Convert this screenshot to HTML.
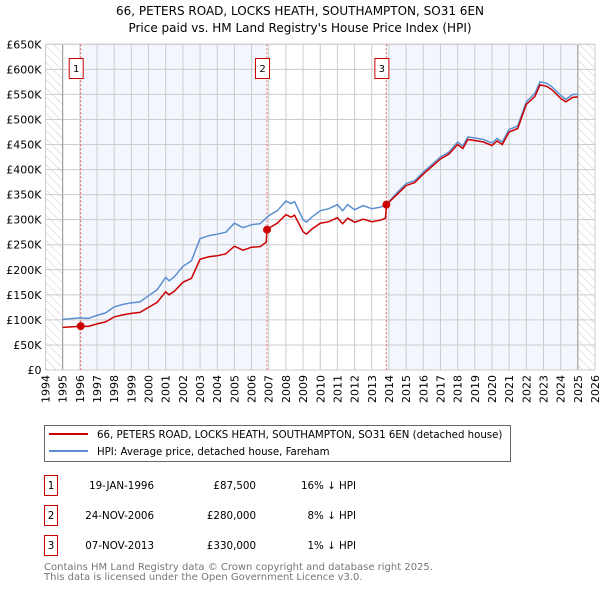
<!DOCTYPE html>
<html><head><meta charset="utf-8"><style>
body{margin:0;background:#fff;font-family:"DejaVu Sans","Liberation Sans",sans-serif;}
svg text{font-family:"DejaVu Sans","Liberation Sans",sans-serif;}
</style></head><body>
<svg id="c" width="600" height="590" xmlns="http://www.w3.org/2000/svg">
<defs><pattern id="hatch" width="6" height="6" patternUnits="userSpaceOnUse" patternTransform="rotate(-45)"><line x1="0" y1="0" x2="0" y2="6" stroke="#ccc" stroke-width="1"/></pattern></defs>
<text x="300" y="15" text-anchor="middle" font-size="12">66, PETERS ROAD, LOCKS HEATH, SOUTHAMPTON, SO31 6EN</text>
<text x="300" y="32" text-anchor="middle" font-size="12">Price paid vs. HM Land Registry's House Price Index (HPI)</text>
<g id="plot"></g>
<g>
<rect x="44.5" y="425.5" width="466" height="36" fill="#fff" stroke="#666"/>
<line x1="49" y1="434" x2="88" y2="434" stroke="#cc0000" stroke-width="2"/>
<text x="97" y="438" font-size="10.2">66, PETERS ROAD, LOCKS HEATH, SOUTHAMPTON, SO31 6EN (detached house)</text>
<line x1="49" y1="451" x2="88" y2="451" stroke="#5b8fd0" stroke-width="2"/>
<text x="97" y="455" font-size="10.2">HPI: Average price, detached house, Fareham</text>
</g>
<g font-size="10.3">
<rect x="44.5" y="475.5" width="13" height="20" fill="none" stroke="#cc0000"/><text x="51" y="489" text-anchor="middle">1</text>
<text x="154" y="489" text-anchor="end">19-JAN-1996</text><text x="256" y="489" text-anchor="end">£87,500</text><text x="356" y="489" text-anchor="end">16% ↓ HPI</text>
<rect x="44.5" y="505.5" width="13" height="20" fill="none" stroke="#cc0000"/><text x="51" y="519" text-anchor="middle">2</text>
<text x="154" y="519" text-anchor="end">24-NOV-2006</text><text x="256" y="519" text-anchor="end">£280,000</text><text x="356" y="519" text-anchor="end">8% ↓ HPI</text>
<rect x="44.5" y="535.5" width="13" height="20" fill="none" stroke="#cc0000"/><text x="51" y="549" text-anchor="middle">3</text>
<text x="154" y="549" text-anchor="end">07-NOV-2013</text><text x="256" y="549" text-anchor="end">£330,000</text><text x="356" y="549" text-anchor="end">1% ↓ HPI</text>
</g>
<text x="44" y="570" font-size="10" fill="#777">Contains HM Land Registry data © Crown copyright and database right 2025.</text>
<text x="44" y="580" font-size="10" fill="#777">This data is licensed under the Open Government Licence v3.0.</text>
</svg>
<script>
const hpiYears=[1995,1996,1996.5,1997,1997.5,1998,1998.5,1999,1999.5,2000,2000.5,2001,2001.2,2001.5,2002,2002.5,2003,2003.5,2004,2004.5,2005,2005.5,2006,2006.5,2007,2007.5,2008,2008.3,2008.5,2009,2009.2,2009.5,2010,2010.5,2011,2011.3,2011.6,2012,2012.5,2013,2013.5,2013.85,2014.5,2015,2015.5,2016,2016.5,2017,2017.5,2018,2018.3,2018.6,2019,2019.5,2020,2020.3,2020.6,2021,2021.5,2022,2022.5,2022.8,2023.2,2023.5,2024,2024.3,2024.7,2025];
const hpiValues=[101,104,103,109,114,126,131,134,136,148,160,185,178,186,207,218,262,268,271,275,293,284,290,292,308,318,337,332,336,300,295,305,318,322,330,318,330,320,328,322,325,330,355,372,378,395,410,425,435,455,447,465,463,460,453,462,455,480,487,535,552,575,572,565,548,540,550,550];
const ppYears=[1995,1996.05,1996.5,1997,1997.5,1998,1998.5,1999,1999.5,2000,2000.5,2001,2001.2,2001.5,2002,2002.5,2003,2003.5,2004,2004.5,2005,2005.5,2006,2006.5,2006.85,2006.9,2007,2007.5,2008,2008.3,2008.5,2009,2009.2,2009.5,2010,2010.5,2011,2011.3,2011.6,2012,2012.5,2013,2013.5,2013.8,2013.85,2014.5,2015,2015.5,2016,2016.5,2017,2017.5,2018,2018.3,2018.6,2019,2019.5,2020,2020.3,2020.6,2021,2021.5,2022,2022.5,2022.8,2023.2,2023.5,2024,2024.3,2024.7,2025];
const ppValues=[85,87.5,87,92,96,106,110,113,115,125,135,156,150,157,175,183,221,226,228,232,247,239,245,246,255,280,283,293,310,305,309,276,271,281,293,296,304,292,303,295,301,296,299,303,330,351,368,374,391,406,421,431,450,442,460,458,455,448,457,450,475,482,530,546,569,566,559,542,535,544,545];
const saleYears=[1996.05,2006.9,2013.85];
const saleValues=[87.5,280,330];
const saleLabels=["1","2","3"];
const yTicks=[0,50,100,150,200,250,300,350,400,450,500,550,600,650];
const yTickLabels=["£0","£50K","£100K","£150K","£200K","£250K","£300K","£350K","£400K","£450K","£500K","£550K","£600K","£650K"];
const xTicks=[1994,1995,1996,1997,1998,1999,2000,2001,2002,2003,2004,2005,2006,2007,2008,2009,2010,2011,2012,2013,2014,2015,2016,2017,2018,2019,2020,2021,2022,2023,2024,2025,2026];

const X0=45.5,X1=595,Y0=370,Y1=44.3;
const x=v=>X0+(v-1994)/(2026-1994)*(X1-X0);
const y=v=>Y0-v/650*(Y0-Y1);
const NS="http://www.w3.org/2000/svg";
const g=document.getElementById('plot');
function mk(t,a){const e=document.createElementNS(NS,t);for(const k in a)e.setAttribute(k,a[k]);g.appendChild(e);return e;}
let e;
e=mk('rect',{x:x(1994),y:Y1,width:x(1995)-x(1994),height:Y0-Y1,fill:'url(#hatch)'});

e=mk('rect',{x:x(2025),y:Y1,width:x(2026)-x(2025),height:Y0-Y1,fill:'url(#hatch)'});

e=mk('rect',{x:x(saleYears[0]),y:Y1,width:x(saleYears[1])-x(saleYears[0]),height:Y0-Y1,fill:'#f3f6fd'});

e=mk('rect',{x:x(saleYears[2]),y:Y1,width:x(2025)-x(saleYears[2]),height:Y0-Y1,fill:'#f3f6fd'});

yTicks.forEach((t,i)=>{
 e=mk('line',{x1:X0,x2:X1,y1:y(t),y2:y(t),stroke:'#ccc'});
 
 e=mk('text',{x:X0-4,y:y(t)+4,'text-anchor':'end','font-size':'11'});e.textContent=yTickLabels[i];
 
});
xTicks.forEach(t=>{
 e=mk('line',{x1:x(t),x2:x(t),y1:Y1,y2:Y0,stroke:'#ccc'});
 
 e=mk('text',{x:0,y:0,'font-size':'11','text-anchor':'end',transform:`translate(${x(t)+4},${Y0+5}) rotate(-90)`});e.textContent=t;
 
});
[1995,2025].forEach(t=>{e=mk('line',{x1:x(t),x2:x(t),y1:Y1,y2:Y0,stroke:'#999'});
 });
e=mk('rect',{x:X0,y:Y1,width:X1-X0,height:Y0-Y1,fill:'none',stroke:'#ccc'});

saleYears.forEach((s,i)=>{
 e=mk('line',{x1:x(s),x2:x(s),y1:Y1,y2:Y0,stroke:'#e06060','stroke-dasharray':'2,2'});
 
 e=mk('rect',{x:x(s)-11.5,y:58.5,width:14,height:20,fill:'#fff',stroke:'#cc0000'});
 
 e=mk('text',{x:x(s)-4.5,y:72,'text-anchor':'middle','font-size':'10'});e.textContent=saleLabels[i];
 
});
const path=(xs,vs)=>xs.map((v,i)=>(i?'L':'M')+x(v).toFixed(1)+','+y(vs[i]).toFixed(1)).join('');
e=mk('path',{d:path(hpiYears,hpiValues),fill:'none',stroke:'#5b8fd0','stroke-width':1.5});

e=mk('path',{d:path(ppYears,ppValues),fill:'none',stroke:'#cc0000','stroke-width':1.5});

saleYears.forEach((s,i)=>{
 e=mk('circle',{cx:x(s),cy:y(saleValues[i]),r:4,fill:'#cc0000'});
 
});
</script>
</body></html>
